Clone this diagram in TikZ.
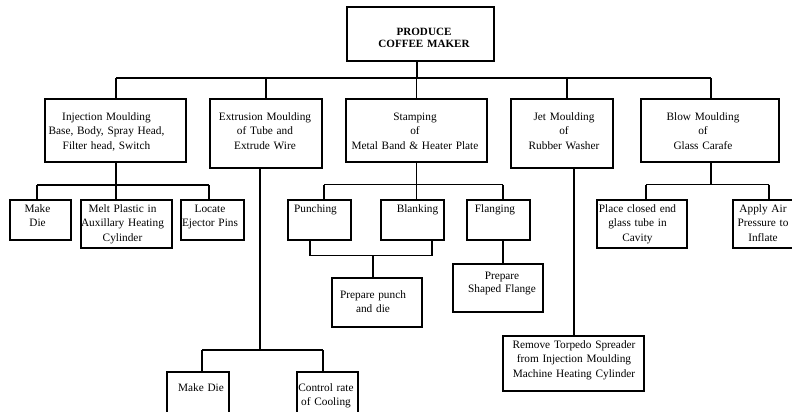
\documentclass[tikz,border=0pt]{standalone}
\usepackage{fontspec}
\setmainfont{Liberation Serif}
\usetikzlibrary{fit}
\tikzset{
  box/.style={draw=black, line width=1.5pt, inner sep=0pt},
  txt/.style={anchor=base, inner sep=0pt, text width=150pt, align=center,
    font=\fontsize{11.3}{14.3}\selectfont},
  conn/.style={draw=black, line width=1.4pt}
}
\begin{document}
\begin{tikzpicture}[x=1pt, y=-1pt]
\clip (0,0) rectangle (792,412);
\fill[white] (0,0) rectangle (792,412);
% boxes
\node[box, fit={(347,7) (494,61)}] (top) {};
\node[box, fit={(45,99) (186,162)}] (inj) {};
\node[box, fit={(210,99) (322,168)}] (ext) {};
\node[box, fit={(346,99) (487,162)}] (stamp) {};
\node[box, fit={(511,99) (613,168)}] (jet) {};
\node[box, fit={(641,99) (779,162)}] (blow) {};
\node[box, fit={(10,200) (71,240)}] (mk1) {};
\node[box, fit={(81,200) (172,248)}] (melt) {};
\node[box, fit={(181,200) (244,240)}] (loc) {};
\node[box, fit={(288,200) (351,240)}] (pun) {};
\node[box, fit={(381,200) (444,240)}] (blk) {};
\node[box, fit={(467,200) (530,240)}] (flg) {};
\node[box, fit={(597,200) (687,248)}] (plc) {};
\node[box, fit={(733,200) (795,248)}] (air) {};
\node[box, fit={(332,278) (422,327)}] (prep) {};
\node[box, fit={(453,264) (543,312)}] (shp) {};
\node[box, fit={(503,336) (644,391)}] (rem) {};
\node[box, fit={(167,372) (229,440)}] (mk2) {};
\node[box, fit={(297,372) (358,440)}] (ctl) {};
% texts
\node[txt, font=\fontsize{11.1}{12}\selectfont\bfseries] (topT) at (424,35.7) {PRODUCE\\COFFEE MAKER};
\node[txt] (injT) at (106.5,120.5) {Injection Moulding\\Base, Body, Spray Head,\\Filter head, Switch};
\node[txt] (extT) at (265,120.5) {Extrusion Moulding\\of Tube and\\Extrude Wire};
\node[txt] (stT) at (415,120.5) {Stamping\\of\\Metal Band \& Heater Plate};
\node[txt] (jetT) at (564,120.5) {Jet Moulding\\of\\Rubber Washer};
\node[txt] (blowT) at (703,120.5) {Blow Moulding\\of\\Glass Carafe};
\node[txt] (mk1T) at (37.5,212.5) {Make\\Die};
\node[txt] (meltT) at (122.5,212.5) {Melt Plastic in\\Auxillary Heating\\Cylinder};
\node[txt] (locT) at (210,212.5) {Locate\\Ejector Pins};
\node[txt] (punT) at (315.5,212.5) {Punching};
\node[txt] (blkT) at (417.5,212.5) {Blanking};
\node[txt] (flgT) at (495,212.5) {Flanging};
\node[txt] (plcT) at (637.5,212.5) {Place closed end\\glass tube in\\Cavity};
\node[txt] (airT) at (763,212.5) {Apply Air\\Pressure to\\Inflate};
\node[txt] (prepT) at (373,298.5) {Prepare punch\\and die};
\node[txt, font=\fontsize{11.3}{13.5}\selectfont] (shpT) at (502,279.3) {Prepare\\Shaped Flange};
\node[txt] (remT) at (574,348.5) {Remove Torpedo Spreader\\from Injection Moulding\\Machine Heating Cylinder};
\node[txt] (mk2T) at (201,391.5) {Make Die};
\node[txt] (ctlT) at (326,391.5) {Control rate\\of Cooling};
% junction coordinates
\coordinate (b0) at (417,78);
\coordinate (b1) at (116,78);
\coordinate (b2) at (266,78);
\coordinate (b3) at (416.5,78);
\coordinate (b4) at (567,78);
\coordinate (b5) at (711,78);
\coordinate (i0) at (116,185);
\coordinate (i1) at (37,185);
\coordinate (i3) at (209,185);
\coordinate (e0) at (260,350);
\coordinate (e1) at (202,350);
\coordinate (e2) at (323,350);
\coordinate (s0) at (416.5,184.5);
\coordinate (s1) at (324,184.5);
\coordinate (s3) at (503,184.5);
\coordinate (p1) at (310,255.5);
\coordinate (p2) at (432,255.5);
\coordinate (p0) at (373,255.5);
\coordinate (f0) at (503,240);
\coordinate (j0) at (574,168);
\coordinate (w0) at (711,184.5);
\coordinate (w1) at (646,184.5);
\coordinate (w2) at (769,184.5);
% connectors
\draw[conn] (top.south -| b0) -- (b0);
\draw[conn] (b1) -- (b5);
\draw[conn] (b1) -- (b1 |- inj.north);
\draw[conn] (b2) -- (b2 |- ext.north);
\draw[conn] (b3) -- (b3 |- stamp.north);
\draw[conn] (b4) -- (b4 |- jet.north);
\draw[conn] (b5) -- (b5 |- blow.north);
% injection
\draw[conn] (inj.south -| i0) -- (i0);
\draw[conn] (i1) -- (i3);
\draw[conn] (i1) -- (i1 |- mk1.north);
\draw[conn] (i0) -- (i0 |- melt.north);
\draw[conn] (i3) -- (i3 |- loc.north);
% extrusion
\draw[conn] (ext.south -| e0) -- (e0);
\draw[conn] (e1) -- (e2);
\draw[conn] (e1) -- (e1 |- mk2.north);
\draw[conn] (e2) -- (e2 |- ctl.north);
% stamping
\draw[conn] (stamp.south -| s0) -- (s0);
\draw[conn] (s1) -- (s3);
\draw[conn] (s1) -- (s1 |- pun.north);
\draw[conn] (s0) -- (s0 |- blk.north);
\draw[conn] (s3) -- (s3 |- flg.north);
\draw[conn] (pun.south -| p1) -- (p1) -- (p2) -- (p2 |- blk.south);
\draw[conn] (p0) -- (p0 |- prep.north);
\draw[conn] (flg.south -| f0) -- (f0 |- shp.north);
% jet
\draw[conn] (jet.south -| j0) -- (j0 |- rem.north);
% blow
\draw[conn] (blow.south -| w0) -- (w0);
\draw[conn] (w1) -- (w2);
\draw[conn] (w1) -- (w1 |- plc.north);
\draw[conn] (w2) -- (w2 |- air.north);
\end{tikzpicture}
\end{document}
